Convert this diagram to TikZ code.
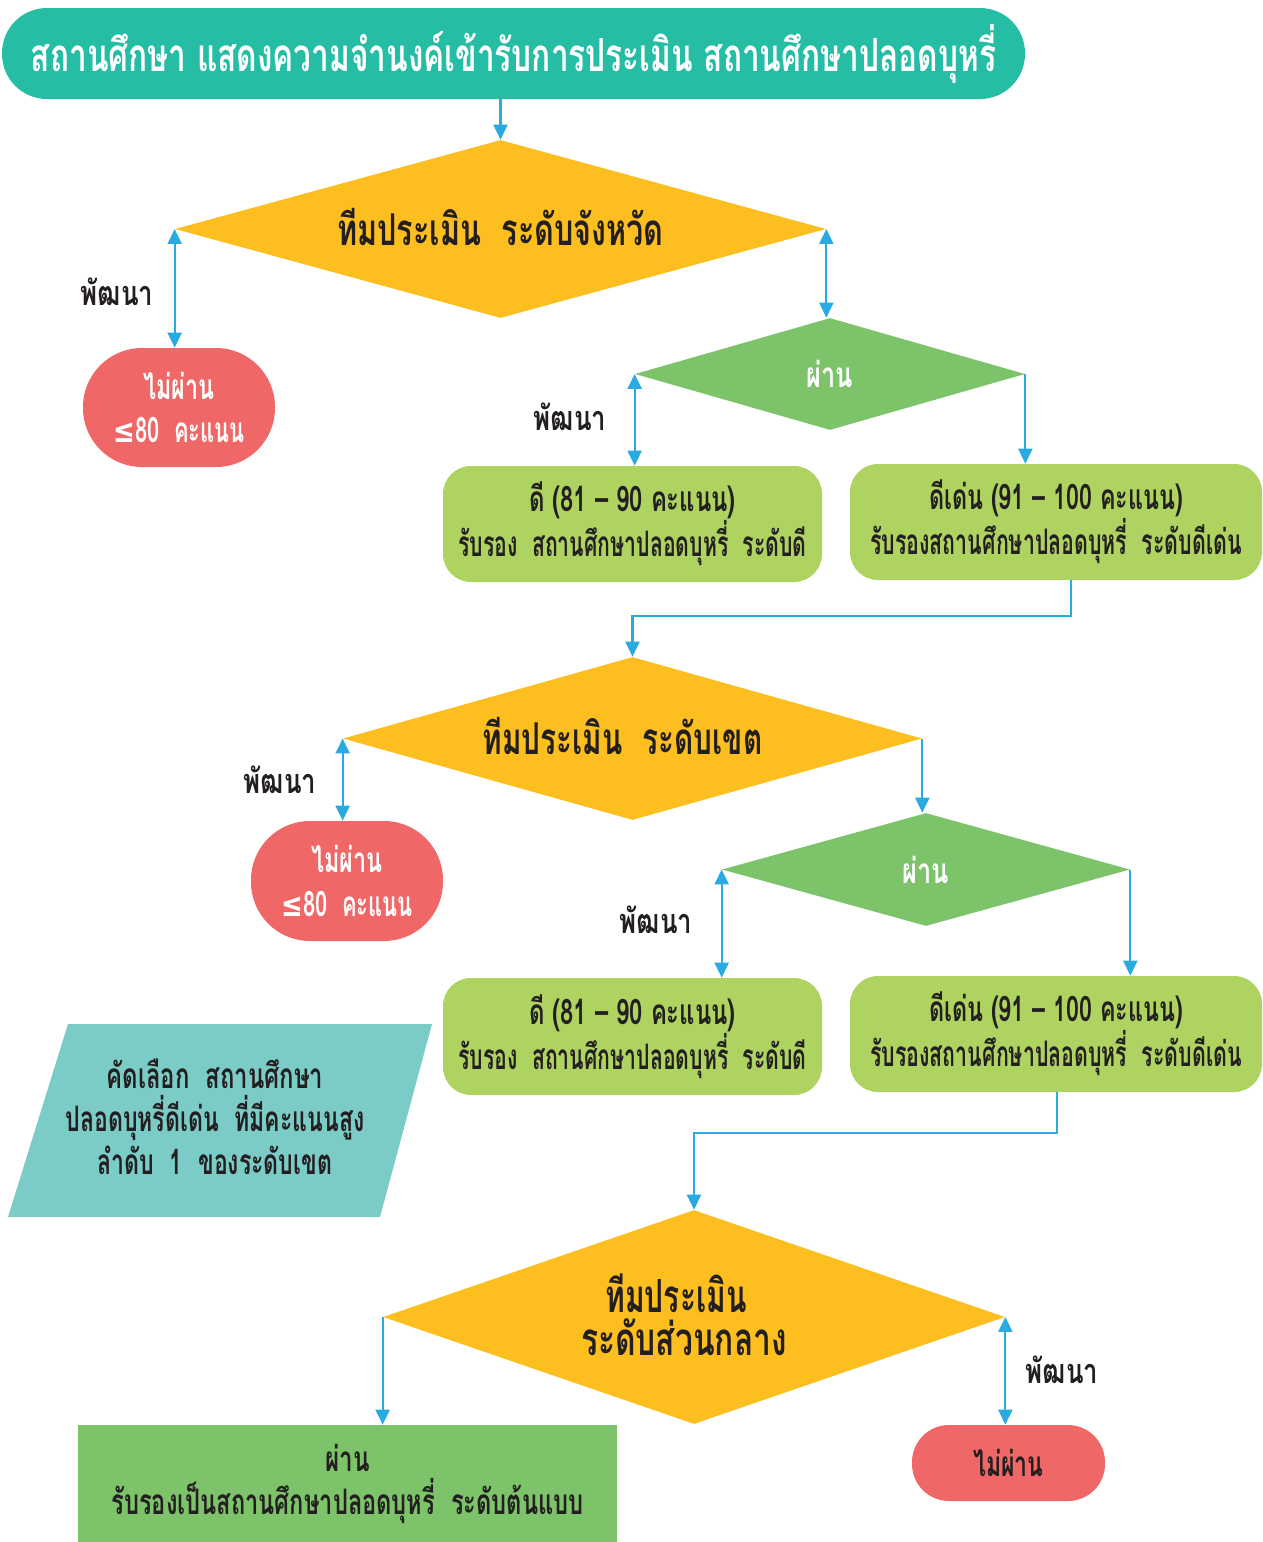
\documentclass[tikz,border=0pt]{standalone}
\usepackage{fontspec}
\usepackage{graphicx}
\usetikzlibrary{arrows.meta,shapes.geometric}
\setmainfont[Script=Thai,FakeStretch=0.8]{Loma}
\newfontfamily\symf{DejaVu Sans}
\newcommand\hs[2]{\scalebox{#1}[1]{#2}}
\newcommand\up[1]{\raisebox{2.6pt}{#1}}
\newcommand\lesym{{\symf\fontsize{19}{19}\selectfont ≤}}
\definecolor{titlec}{RGB}{38,189,165}
\definecolor{yel}{RGB}{253,190,32}
\definecolor{redc}{RGB}{240,103,103}
\definecolor{grn}{RGB}{125,195,105}
\definecolor{lime}{RGB}{174,211,96}
\definecolor{tealc}{RGB}{123,203,199}
\definecolor{arr}{RGB}{41,171,226}
\definecolor{txt}{RGB}{35,31,32}
\tikzset{
  tip/.tip={Triangle[length=8.5pt,width=8pt]},
  conn/.style={draw=arr, line width=1.2pt, -tip},
  dconn/.style={draw=arr, line width=1.2pt, tip-tip},
  dia/.style={diamond, inner sep=0pt, text=txt, font=\fontsize{25}{27}\selectfont\bfseries},
  boxc/.style={rectangle, fill=lime, rounded corners=0.56cm, inner sep=0pt, text=txt, align=center, font=\fontsize{20}{24.4}\selectfont\bfseries},
  stad/.style={rectangle, fill=redc, inner sep=0pt, align=center, font=\fontsize{20}{25}\selectfont\bfseries},
  lbl/.style={text=txt, inner sep=0pt, font=\fontsize{19.5}{22}\selectfont\bfseries},
}
\begin{document}
\begin{tikzpicture}[x=0.02cm,y=-0.02cm]
\useasboundingbox (0,0) rectangle (1262,1542);
% title
\node[rectangle, fill=titlec, rounded corners=0.9cm, minimum width=1023*0.02cm, minimum height=91*0.02cm, text=white, inner sep=0pt, font=\fontsize{26}{30}\selectfont\bfseries] (title) at (513.5,53.5) {\up{\hs{0.865}{สถานศึกษา แสดงความจำนงค์เข้ารับการประเมิน สถานศึกษาปลอดบุหรี่}}};
% diamond 1
\node[dia, fill=yel, minimum width=651*0.02cm, minimum height=178*0.02cm, shape aspect=3.66] (d1) at (500.5,229) {\up{\hs{0.87}{ทีมประเมิน\ \ ระดับจังหวัด}}};
\node[stad, minimum width=192*0.02cm, minimum height=119*0.02cm, rounded corners=1.18cm, text=white] (r1) at (179,407.5) {\hs{0.83}{ไม่ผ่าน}\\\hs{0.78}{\lesym80\ \ คะแนน}};
\node[dia, fill=grn, text=white, minimum width=390*0.02cm, minimum height=112*0.02cm, shape aspect=3.48, font=\fontsize{20}{24}\selectfont\bfseries] (g1) at (830,374) {\hs{0.9}{ผ่าน}};
\node[boxc, minimum width=379*0.02cm, minimum height=116*0.02cm] (b1) at (632.5,524) {\hs{0.85}{ดี (81 – 90 คะแนน)}\\\hs{0.755}{รับรอง\ \ สถานศึกษาปลอดบุหรี่\ \ ระดับดี}};
\node[boxc, minimum width=412*0.02cm, minimum height=116*0.02cm] (b2) at (1056,522) {\hs{0.83}{ดีเด่น (91 – 100 คะแนน)}\\\hs{0.76}{รับรองสถานศึกษาปลอดบุหรี่\ \ ระดับดีเด่น}};
% diamond 2
\node[dia, fill=yel, minimum width=579*0.02cm, minimum height=163*0.02cm, shape aspect=3.55] (d2) at (632.5,738.5) {\up{\hs{0.845}{ทีมประเมิน\ \ ระดับเขต}}\hspace*{0.4cm}};
\node[stad, minimum width=192*0.02cm, minimum height=120*0.02cm, rounded corners=1.18cm, text=white] (r2) at (347,881) {\hs{0.83}{ไม่ผ่าน}\\\hs{0.78}{\lesym80\ \ คะแนน}};
\node[dia, fill=grn, text=white, minimum width=408*0.02cm, minimum height=113*0.02cm, shape aspect=3.61, font=\fontsize{20}{24}\selectfont\bfseries] (g2) at (926,869.5) {\hs{0.9}{ผ่าน}};
\node[boxc, minimum width=379*0.02cm, minimum height=117*0.02cm] (b3) at (632.5,1036.5) {\hs{0.85}{ดี (81 – 90 คะแนน)}\\\hs{0.755}{รับรอง\ \ สถานศึกษาปลอดบุหรี่\ \ ระดับดี}};
\node[boxc, minimum width=412*0.02cm, minimum height=116*0.02cm] (b4) at (1056,1034) {\hs{0.83}{ดีเด่น (91 – 100 คะแนน)}\\\hs{0.76}{รับรองสถานศึกษาปลอดบุหรี่\ \ ระดับดีเด่น}};
% parallelogram
\fill[tealc] (68,1024) -- (432,1024) -- (380,1217) -- (8,1217) -- cycle;
\node[text=txt, align=center, inner sep=0pt, font=\fontsize{20}{24.4}\selectfont\bfseries] (sel) at (215,1117) {\hs{0.85}{คัดเลือก\ \ สถานศึกษา}\\\hs{0.82}{ปลอดบุหรี่ดีเด่น\ \ ที่มีคะแนนสูง}\\\hs{0.82}{ลำดับ\ \ 1\ \ ของระดับเขต}};
% diamond 3
\node[dia, fill=yel, minimum width=622*0.02cm, minimum height=214*0.02cm, shape aspect=2.9, align=center, font=\fontsize{26}{24.4}\selectfont\bfseries] (d3) at (694,1317) {\up{\hs{0.82}{ทีมประเมิน}}\hspace*{0.72cm}\\\up{\hs{0.87}{ระดับส่วนกลาง}}\hspace*{0.4cm}};
\node[rectangle, fill=grn, minimum width=539*0.02cm, minimum height=117*0.02cm, inner sep=0pt, text=txt, align=center, font=\fontsize{20}{24.4}\selectfont\bfseries] (p1) at (347.5,1483.5) {\hs{0.86}{ผ่าน}\\\hs{0.84}{รับรองเป็นสถานศึกษาปลอดบุหรี่\ \ ระดับต้นแบบ}};
\node[stad, minimum width=193*0.02cm, minimum height=76*0.02cm, rounded corners=0.74cm, text=txt] (r3) at (1008.5,1463) {\hs{0.82}{ไม่ผ่าน}};
% labels
\node[lbl] (l1) at (117,292) {\hs{0.94}{พัฒนา}};
\node[lbl] (l2) at (570,417) {\hs{0.94}{พัฒนา}};
\node[lbl] (l3) at (280,780) {\hs{0.94}{พัฒนา}};
\node[lbl] (l4) at (656,920) {\hs{0.94}{พัฒนา}};
\node[lbl] (l5) at (1062,1370) {\hs{0.94}{พัฒนา}};
% connectors
\draw[conn] (d1.north |- title.south) -- (d1.north);
\draw[dconn] (d1.west) -- (d1.west |- r1.north);
\draw[dconn] (d1.east) -- (d1.east |- g1.north);
\draw[dconn] (g1.west) -- (g1.west |- b1.north);
\draw[conn] (g1.east) -- (g1.east |- b2.north);
\coordinate (j1) at (1071,616);
\draw[conn] (b2.south -| j1) -- (j1) -| (d2.north);
\draw[dconn] (d2.west) -- (d2.west |- r2.north);
\draw[conn] (d2.east) -- (d2.east |- g2.north);
\draw[dconn] (g2.west) -- (g2.west |- b3.north);
\draw[conn] (g2.east) -- (g2.east |- b4.north);
\coordinate (j2) at (1057,1133);
\draw[conn] (b4.south -| j2) -- (j2) -| (d3.north);
\draw[conn] (d3.west) -- (d3.west |- p1.north);
\draw[dconn] (d3.east) -- (d3.east |- r3.north);
\end{tikzpicture}
\end{document}
